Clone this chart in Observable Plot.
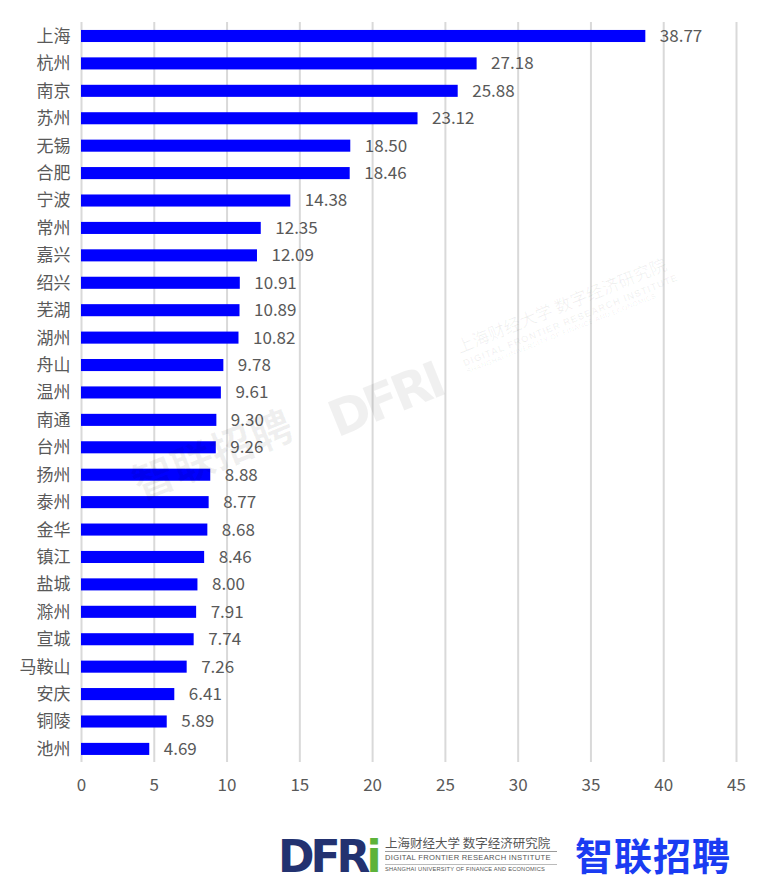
<!DOCTYPE html>
<html>
<head>
<meta charset="utf-8">
<script src="https://cdn.jsdelivr.net/npm/d3@7"></script>
<script src="https://cdn.jsdelivr.net/npm/@observablehq/plot@0.6"></script>
<style>
  body { margin: 0; background: #fff; font-family: "Noto Sans CJK SC", "Noto Sans", sans-serif; }
  #wrap { position: relative; width: 759px; height: 890px; overflow: hidden; }
  #chart { position: absolute; left: 0; top: 0; }
  .wm { position: absolute; color: rgba(0,0,0,0.06); white-space: nowrap; pointer-events: none; transform-origin: left top; }
  #footer { position: absolute; left: 0; top: 805px; width: 759px; height: 85px; }
  .logo { position: absolute; left: 278px; top: 30px; font: 900 44px/1 "DejaVu Sans", sans-serif; color: #233270; letter-spacing: -4px; }
  .logo b { color: #5db33a; }
  .inst { position: absolute; left: 385px; top: 29px; width: 172px; color: #555; white-space: nowrap; }
  .inst .cn { font-size: 12.5px; line-height: 17px; }
  .inst .en1 { font: 7.6px/12px "Liberation Sans", sans-serif; letter-spacing: 0.3px; border-top: 1px solid #999; }
  .inst .en2 { font: 5.7px/9px "Liberation Sans", sans-serif; letter-spacing: 0.2px; border-top: 1px solid #bbb; }
  .zl { position: absolute; left: 575px; top: 30px; font: 700 38px/1 "Noto Sans CJK SC", sans-serif; color: #1a3cf2; letter-spacing: 1px; }
</style>
</head>
<body>
<div id="wrap">
  <div id="chart"></div>
  <div class="wm" style="left:122px;top:455px;transform:rotate(-22deg);font:700 42px 'Noto Sans CJK SC';">智联招聘</div>
  <div class="wm" style="left:320px;top:395px;transform:rotate(-22deg);font:900 50px 'DejaVu Sans';letter-spacing:-4px;">DFRI</div>
  <div class="wm" style="left:452px;top:335px;transform:rotate(-22deg);">
    <div style="font-size:17px;">上海财经大学 数字经济研究院</div>
    <div style="font:700 9.5px 'Liberation Sans';letter-spacing:1px;">DIGITAL FRONTIER RESEARCH INSTITUTE</div>
    <div style="font:7px 'Liberation Sans';letter-spacing:0.4px;">SHANGHAI UNIVERSITY OF FINANCE AND ECONOMICS</div>
  </div>
  <div id="footer">
    <div class="logo">DFR<b>i</b></div>
    <div class="inst">
      <div class="cn">上海财经大学 数字经济研究院</div>
      <div class="en1">DIGITAL FRONTIER RESEARCH INSTITUTE</div>
      <div class="en2">SHANGHAI UNIVERSITY OF FINANCE AND ECONOMICS</div>
    </div>
    <div class="zl">智联招聘</div>
  </div>
</div>
<script>
// Cities, top to bottom
const cities = ["上海","杭州","南京","苏州","无锡","合肥","宁波","常州","嘉兴","绍兴","芜湖","湖州","舟山","温州","南通","台州","扬州","泰州","金华","镇江","盐城","滁州","宣城","马鞍山","安庆","铜陵","池州"];
const values = [38.77,27.18,25.88,23.12,18.50,18.46,14.38,12.35,12.09,10.91,10.89,10.82,9.78,9.61,9.30,9.26,8.88,8.77,8.68,8.46,8.00,7.91,7.74,7.26,6.41,5.89,4.69];
const xTicks = [0,5,10,15,20,25,30,35,40,45];

const data = cities.map((city, i) => ({city, value: values[i]}));

const chart = Plot.plot({
  width: 759,
  height: 805,
  marginLeft: 81,
  marginRight: 23,
  marginTop: 22,
  marginBottom: 43,
  style: {fontFamily: "'Noto Sans CJK SC', sans-serif", fontSize: "17px", color: "#595959", background: "transparent"},
  x: {domain: [0, 45], ticks: xTicks, label: null, tickSize: 0, tickPadding: 16},
  // band range extends past the frame so each bar sits centred in its row
  y: {domain: cities, label: null, tickSize: 0, tickPadding: 11, padding: 0.56, range: [14.6, 770.3], round: false},
  marks: [
    Plot.ruleX(xTicks, {stroke: "#d9d9d9", strokeWidth: 2}),
    Plot.barX(data, {x: "value", y: "city", fill: "#0000ff"}),
    Plot.text(data, {x: "value", y: "city", text: d => d.value.toFixed(2), dx: 14, textAnchor: "start", fill: "#595959", fontSize: 17})
  ]
});
document.getElementById("chart").appendChild(chart);
</script>
</body>
</html>
